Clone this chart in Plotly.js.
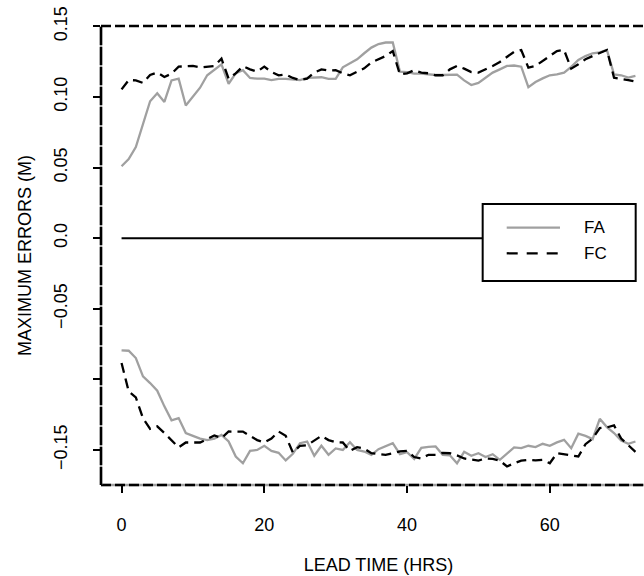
<!DOCTYPE html>
<html><head><meta charset="utf-8">
<script src="https://cdn.plot.ly/plotly-3.0.1.min.js"></script>
<style>html,body{margin:0;padding:0;overflow:hidden;background:#fff}#chart{width:660px;height:576px}</style>
</head><body><div id="chart"></div>
<script>
const hours = [0,1,2,3,4,5,6,7,8,9,10,11,12,13,14,15,16,17,18,19,20,21,22,23,24,25,26,27,28,29,30,31,32,33,34,35,36,37,38,39,40,41,42,43,44,45,46,47,48,49,50,51,52,53,54,55,56,57,58,59,60,61,62,63,64,65,66,67,68,69,70,71,72];
const faUpper = [0.051,0.056,0.0645,0.081,0.097,0.1026,0.0965,0.1118,0.113,0.094,0.1007,0.1066,0.1154,0.1196,0.1232,0.1094,0.1168,0.119,0.1135,0.113,0.113,0.112,0.1128,0.1128,0.1123,0.112,0.1135,0.114,0.114,0.1128,0.1128,0.121,0.124,0.1267,0.131,0.135,0.1375,0.1386,0.1386,0.118,0.1177,0.1165,0.1165,0.116,0.1156,0.1156,0.1156,0.1158,0.1118,0.1085,0.110,0.1137,0.1173,0.1196,0.122,0.1223,0.1215,0.107,0.1106,0.1132,0.1154,0.116,0.1173,0.1213,0.1262,0.129,0.131,0.1316,0.1333,0.116,0.1154,0.1137,0.1149];
const fcUpper = [0.1054,0.112,0.1118,0.110,0.1156,0.1173,0.1142,0.1165,0.1215,0.122,0.122,0.121,0.1215,0.122,0.1272,0.113,0.1168,0.1218,0.1196,0.118,0.1215,0.1177,0.1154,0.116,0.1135,0.112,0.113,0.1173,0.1196,0.1187,0.119,0.1168,0.1154,0.1177,0.1203,0.1245,0.127,0.129,0.1326,0.116,0.1168,0.119,0.1173,0.1168,0.1154,0.1154,0.1196,0.122,0.1201,0.1177,0.1173,0.1196,0.122,0.1248,0.1286,0.132,0.1333,0.1208,0.122,0.1255,0.129,0.1326,0.1333,0.1201,0.1232,0.1267,0.129,0.131,0.1333,0.1137,0.113,0.112,0.1109];
const faLower = [-0.0794,-0.0797,-0.0849,-0.0979,-0.1026,-0.108,-0.1191,-0.129,-0.1274,-0.138,-0.140,-0.142,-0.143,-0.142,-0.1393,-0.144,-0.1546,-0.1594,-0.1506,-0.150,-0.147,-0.1506,-0.152,-0.1574,-0.1527,-0.1452,-0.144,-0.1541,-0.147,-0.1534,-0.1489,-0.150,-0.1445,-0.150,-0.1511,-0.1534,-0.1494,-0.1475,-0.1452,-0.153,-0.1516,-0.1563,-0.1485,-0.1478,-0.1475,-0.1534,-0.1538,-0.1594,-0.1513,-0.1541,-0.1523,-0.155,-0.153,-0.157,-0.1523,-0.1482,-0.1487,-0.147,-0.148,-0.1456,-0.147,-0.1446,-0.1428,-0.1487,-0.1385,-0.140,-0.1423,-0.1279,-0.1338,-0.138,-0.1433,-0.1456,-0.144];
const fcLower = [-0.0884,-0.1085,-0.1128,-0.1274,-0.135,-0.1333,-0.138,-0.1428,-0.1482,-0.1447,-0.1445,-0.1447,-0.1423,-0.1397,-0.1416,-0.1369,-0.137,-0.137,-0.140,-0.143,-0.1447,-0.1419,-0.1369,-0.140,-0.1518,-0.147,-0.1466,-0.143,-0.140,-0.143,-0.1445,-0.1447,-0.1506,-0.148,-0.149,-0.1523,-0.153,-0.1534,-0.1523,-0.151,-0.1506,-0.155,-0.156,-0.1534,-0.1534,-0.152,-0.1523,-0.1538,-0.156,-0.157,-0.1575,-0.156,-0.1563,-0.1575,-0.1617,-0.1594,-0.1575,-0.157,-0.1574,-0.157,-0.1594,-0.1523,-0.153,-0.1534,-0.1546,-0.1459,-0.1419,-0.1345,-0.134,-0.1326,-0.1419,-0.1466,-0.1513];
const zeroLine = [0,0];
const zeroHours = [0,72];
const xTickVals = [0,20,40,60];
const yTickVals = [-0.15,-0.10,-0.05,0,0.05,0.10,0.15];
const yTickText = ['\u22120.15','','\u22120.05','0.0','0.05','0.10','0.15'];
const seriesNames = ['FA','FC'];

const FONT = 'Liberation Sans, Arial, Helvetica, sans-serif';
const GRAY = '#a0a0a0';
const faStyle = {color: GRAY, width: 2.3};
const fcStyle = {color: '#000', width: 2.3, dash: '10px,6px'};

const traces = [
  {x: zeroHours, y: zeroLine, mode: 'lines', line: {color: '#000', width: 2}, showlegend: false, hoverinfo: 'skip'},
  {x: hours, y: faUpper, name: seriesNames[0], mode: 'lines', line: faStyle, showlegend: false},
  {x: hours, y: faLower, name: seriesNames[0], mode: 'lines', line: faStyle, showlegend: false},
  {x: hours, y: fcUpper, name: seriesNames[1], mode: 'lines', line: fcStyle, showlegend: false},
  {x: hours, y: fcLower, name: seriesNames[1], mode: 'lines', line: fcStyle, showlegend: false}
];

// legend box geometry (paper coords)
const lg = {x0: 0.6877, x1: 0.9634, y0: 0.4444, y1: 0.6122, s0: 0.731, s1: 0.827, t: 0.866, r1: 0.5606, r2: 0.5048};

const layout = {
  width: 660, height: 576,
  margin: {l: 101, r: 4, t: 26, b: 91, pad: 0},
  paper_bgcolor: '#fff', plot_bgcolor: '#fff',
  font: {family: FONT, size: 18, color: '#000'},
  showlegend: false,
  xaxis: {
    range: [-2.88, 74.88], tickvals: xTickVals, ticktext: xTickVals.map(String),
    ticks: 'outside', ticklen: 7, tickwidth: 2, tickcolor: '#000',
    showgrid: false, zeroline: false, showline: false,
    tickfont: {family: FONT, size: 18, color: '#000'}, ticklabelstandoff: 16,
    title: {text: 'LEAD TIME (HRS)', font: {family: FONT, size: 18, color: '#000'}, standoff: 24}
  },
  yaxis: {
    range: [-0.1748, 0.1503], tickvals: yTickVals, ticktext: yTickText, tickangle: -90,
    ticks: 'outside', ticklen: 7, tickwidth: 2, tickcolor: '#000',
    showgrid: false, zeroline: false, showline: false,
    tickfont: {family: FONT, size: 18, color: '#000'}, ticklabelstandoff: 19,
    title: {text: 'MAXIMUM ERRORS (M)', font: {family: FONT, size: 18, color: '#000'}, standoff: 14}
  },
  shapes: [
    {type: 'line', xref: 'paper', yref: 'paper', x0: 0, x1: 1, y0: 0, y1: 0, line: {color: GRAY, width: 2.5}, layer: 'below'},
    {type: 'line', xref: 'paper', yref: 'paper', x0: 0, x1: 1, y0: 0, y1: 0, line: {color: '#000', width: 2.5, dash: '10px,4px'}, layer: 'below'},
    {type: 'line', xref: 'paper', yref: 'paper', x0: 0, x1: 0, y0: 0, y1: 1, line: {color: GRAY, width: 2.5}, layer: 'below'},
    {type: 'line', xref: 'paper', yref: 'paper', x0: 0, x1: 0, y0: 0, y1: 1, line: {color: '#000', width: 2.5, dash: '18px,2px'}, layer: 'below'},
    {type: 'line', xref: 'paper', yref: 'paper', x0: 0, x1: 1, y0: 1, y1: 1, line: {color: '#000', width: 2.5, dash: '10px,4px'}, layer: 'below'},
    {type: 'rect', xref: 'paper', yref: 'paper', x0: lg.x0, x1: lg.x1, y0: lg.y0, y1: lg.y1, fillcolor: '#fff', line: {color: '#000', width: 2}, layer: 'above'},
    {type: 'line', xref: 'paper', yref: 'paper', x0: lg.s0, x1: lg.s1, y0: lg.r1, y1: lg.r1, line: faStyle, layer: 'above'},
    {type: 'line', xref: 'paper', yref: 'paper', x0: lg.s0, x1: lg.s1, y0: lg.r2, y1: lg.r2, line: {color: '#000', width: 2.3, dash: '11px,9px'}, layer: 'above'}
  ],
  annotations: [
    {xref: 'paper', yref: 'paper', x: lg.t, y: lg.r1, text: seriesNames[0], showarrow: false, xanchor: 'left', yanchor: 'middle', font: {family: FONT, size: 17, color: '#000'}},
    {xref: 'paper', yref: 'paper', x: lg.t, y: lg.r2, text: seriesNames[1], showarrow: false, xanchor: 'left', yanchor: 'middle', font: {family: FONT, size: 17, color: '#000'}}
  ]
};

Plotly.newPlot('chart', traces, layout, {staticPlot: true, displayModeBar: false});
</script></body></html>
